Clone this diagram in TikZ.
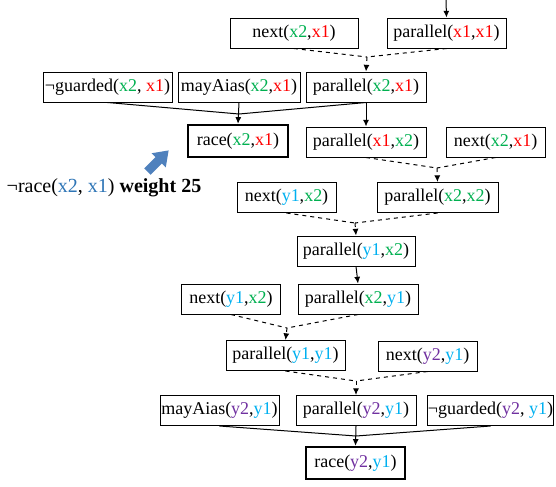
\documentclass[tikz,border=0pt]{standalone}
\usepackage{fontspec}
\setmainfont{Liberation Serif}
\usetikzlibrary{arrows.meta}

\definecolor{xonec}{RGB}{255,0,0}
\definecolor{xtwoc}{RGB}{0,176,80}
\definecolor{yonec}{RGB}{0,176,240}
\definecolor{ytwoc}{RGB}{112,48,160}
\definecolor{notc}{RGB}{46,117,182}
\definecolor{hintc}{RGB}{79,129,189}

\newcommand{\Xa}{\textcolor{xonec}{x1}}
\newcommand{\Xb}{\textcolor{xtwoc}{x2}}
\newcommand{\Ya}{\textcolor{yonec}{y1}}
\newcommand{\Yb}{\textcolor{ytwoc}{y2}}

\begin{document}
\begin{tikzpicture}[x=0.75pt,y=-0.75pt,
   box/.style={draw, line width=0.75pt, inner sep=0pt, minimum height=22.5pt, font=\fontsize{13.5}{15}\selectfont},
   goal/.style={box, line width=1.8pt, minimum height=24pt},
   link/.style={line width=0.75pt},
   dlink/.style={link, dashed},
   tip/.style={-{Latex[length=5pt,width=4.5pt]}}]
   \useasboundingbox (0,0) rectangle (556,486);
   % row 1
   \node[box, minimum width=96pt] (nxa) at (294,33) {next(\Xb,\Xa)};
   \node[box, minimum width=89.25pt] (pxx) at (446.5,33) {parallel(\Xa,\Xa)};
   % row 2
   \node[box, minimum width=96.75pt] (gda) at (107.5,87) {¬guarded(\Xb, \Xa)};
   \node[box, minimum width=91.5pt] (maa) at (239,87) {mayAias(\Xb,\Xa)};
   \node[box, minimum width=90pt] (pxa) at (366,87) {parallel(\Xb,\Xa)};
   % row 3
   \node[goal, minimum width=75pt] (rca) at (238,141) {race(\Xb,\Xa)};
   \node[box, minimum width=90pt] (pxb) at (366,142) {parallel(\Xa,\Xb)};
   \node[box, minimum width=74.25pt] (nxb) at (495.5,142) {next(\Xb,\Xa)};
   % row 4
   \node[box, minimum width=74.25pt] (nya) at (286.5,197.5) {next(\Ya,\Xb)};
   \node[box, minimum width=90.75pt] (pxc) at (437.5,197.5) {parallel(\Xb,\Xb)};
   % row 5
   \node[box, minimum width=88.5pt] (pya) at (356,251) {parallel(\Ya,\Xb)};
   % row 6
   \node[box, minimum width=74.25pt] (nyb) at (231,299) {next(\Ya,\Xb)};
   \node[box, minimum width=90pt] (pxd) at (358,299) {parallel(\Xb,\Ya)};
   % row 7
   \node[box, minimum width=89.25pt] (pyy) at (285.5,355.5) {parallel(\Ya,\Ya)};
   \node[box, minimum width=74.25pt] (nyc) at (427.5,356) {next(\Yb,\Ya)};
   % row 8
   \node[box, minimum width=89.25pt] (mab) at (219.5,410.5) {mayAias(\Yb,\Ya)};
   \node[box, minimum width=90pt] (pyb) at (356,410.5) {parallel(\Yb,\Ya)};
   \node[box, minimum width=93.75pt] (gdb) at (490.5,410.5) {¬guarded(\Yb, \Ya)};
   % row 9
   \node[goal, minimum width=74.25pt] (rcb) at (355.5,463) {race(\Yb,\Ya)};

   % junctions
   \coordinate (top) at (446,0);
   \coordinate (j1) at (367,57);
   \coordinate (j2) at (239,114);
   \coordinate (j3) at (437,168);
   \coordinate (j4) at (355,223);
   \coordinate (j5) at (287,328);
   \coordinate (j6) at (356,381);
   \coordinate (j7) at (356,436);

   \draw[link,tip] (top) -- (pxx.north);
   \draw[dlink] (nxa.south) -- (j1);
   \draw[dlink] (pxx.south) -- (j1);
   \draw[dlink,tip] (j1) -- (pxa.north);

   \draw[link] (gda.south) -- (j2);
   \draw[link] (pxa.south) -- (j2);
   \draw[link,tip] (maa.south) -- (rca.north);
   \draw[link,tip] (pxa.south) -- (pxb.north);

   \draw[dlink] (pxb.south) -- (j3);
   \draw[dlink] (nxb.south) -- (j3);
   \draw[dlink,tip] (j3) -- (pxc.north);

   \draw[dlink] (nya.south) -- (j4);
   \draw[dlink] (pxc.south) -- (j4);
   \draw[dlink,tip] (j4) -- (pya.north);

   \draw[link,tip] (pya.south) -- (pxd.north);

   \draw[dlink] (nyb.south) -- (j5);
   \draw[dlink] (pxd.south) -- (j5);
   \draw[dlink,tip] (j5) -- (pyy.north);

   \draw[dlink] (pyy.south) -- (j6);
   \draw[dlink] (nyc.south) -- (j6);
   \draw[dlink,tip] (j6) -- (pyb.north);

   \draw[link] (mab.south) -- (j7);
   \draw[link] (gdb.south) -- (j7);
   \draw[link,tip] (pyb.south) -- (rcb.north);

   % hint
   \begin{scope}[shift={(158,161)}, rotate=45]
    \fill[hintc] (-15,-4.5) -- (1,-4.5) -- (1,-10) -- (15,0) -- (1,10) -- (1,4.5) -- (-15,4.5) -- cycle;
   \end{scope}
   \node[font=\fontsize{15}{17}\selectfont, inner sep=0pt] (note) at (104,188)
      {¬race(\textcolor{notc}{x2}, \textcolor{notc}{x1}) \textbf{weight 25}};
\end{tikzpicture}
\end{document}
